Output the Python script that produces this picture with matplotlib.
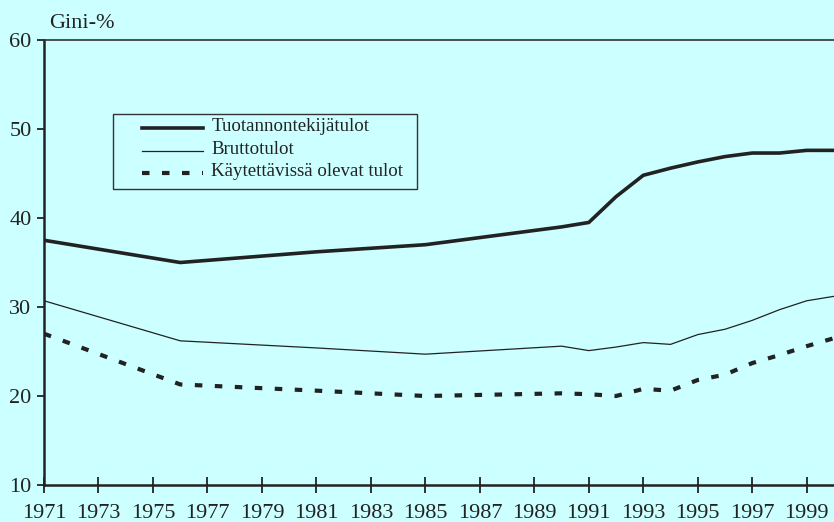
import matplotlib
matplotlib.use("Agg")
import matplotlib.pyplot as plt
from matplotlib.lines import Line2D
from matplotlib.patches import Rectangle

years = [1971, 1976, 1981, 1985, 1990, 1991, 1992, 1993, 1994, 1995, 1996, 1997, 1998, 1999, 2000]
tuotannontekija = [37.5, 35.0, 36.2, 37.0, 39.0, 39.5, 42.4, 44.8, 45.6, 46.3, 46.9, 47.3, 47.3, 47.6, 47.6]
brutto = [30.7, 26.2, 25.4, 24.7, 25.6, 25.1, 25.5, 26.0, 25.8, 26.9, 27.5, 28.5, 29.7, 30.7, 31.2]
kaytettavissa = [27.0, 21.3, 20.6, 20.0, 20.3, 20.2, 20.0, 20.8, 20.6, 21.8, 22.4, 23.7, 24.6, 25.6, 26.5]
labels = ["Tuotannontekijätulot", "Bruttotulot", "Käytettävissä olevat tulot"]
xticks = list(range(1971, 2000, 2))
yticks = [10, 20, 30, 40, 50, 60]

plt.rcParams['font.family'] = ['Liberation Serif', 'DejaVu Serif']
bg = '#CCFFFF'
ink = '#222222'
W, H = 834, 522

def fx(px):
    return px / W

def fy(py):
    return 1 - py / H

fig = plt.figure(figsize=(8.34, 5.22), dpi=100, facecolor=bg)
ax = fig.add_axes([fx(44), fy(485), 1 - fx(44), (485 - 40) / H])
ax.set_facecolor(bg)

styles = [
    dict(color=ink, lw=2.6, solid_joinstyle='miter'),
    dict(color=ink, lw=0.9),
    dict(color=ink, lw=3.0, linestyle=(0, (1.8, 3.0)), dash_capstyle='butt'),
]
for vals, st in zip([tuotannontekija, brutto, kaytettavissa], styles):
    ax.plot(years, vals, **st)

ax.set_xlim(1971, 2000)
ax.set_ylim(10, 60)
ax.set_xticks(xticks)
ax.set_xticklabels([str(x) for x in xticks])
ax.set_yticks(yticks)
ax.tick_params(axis='x', direction='inout', length=12, width=1.3, colors=ink,
               labelsize=16, pad=8)
ax.tick_params(axis='y', direction='out', length=5, width=1.3, colors=ink,
               labelsize=16, pad=4)
for lbl in ax.get_xticklabels() + ax.get_yticklabels():
    lbl.set_color(ink)

for s in ['left', 'bottom']:
    ax.spines[s].set_linewidth(1.8)
    ax.spines[s].set_color(ink)
ax.spines['top'].set_linewidth(1.2)
ax.spines['top'].set_color('#333333')
ax.spines['right'].set_visible(False)

fig.text(fx(49), fy(23), "Gini-%", fontsize=16, color=ink, va='center', ha='left')

# legend drawn as a framed box
box = Rectangle((fx(112.7), fy(189.3)), fx(416.7) - fx(112.7), fy(114) - fy(189.3),
                transform=fig.transFigure, facecolor=bg, edgecolor='#333333', lw=1.0,
                zorder=5)
fig.add_artist(box)
row_y = [127.7, 150.5, 173.3]
for lab, st, yy in zip(labels, styles, row_y):
    ln = Line2D([fx(142), fx(203)], [fy(yy), fy(yy)], transform=fig.transFigure,
                zorder=6, **st)
    fig.add_artist(ln)
    fig.text(fx(211.5), fy(yy - 1.5), lab, fontsize=13.6, color=ink, va='center',
             ha='left', zorder=6)

fig.savefig("out.png", dpi=100, facecolor=bg)
